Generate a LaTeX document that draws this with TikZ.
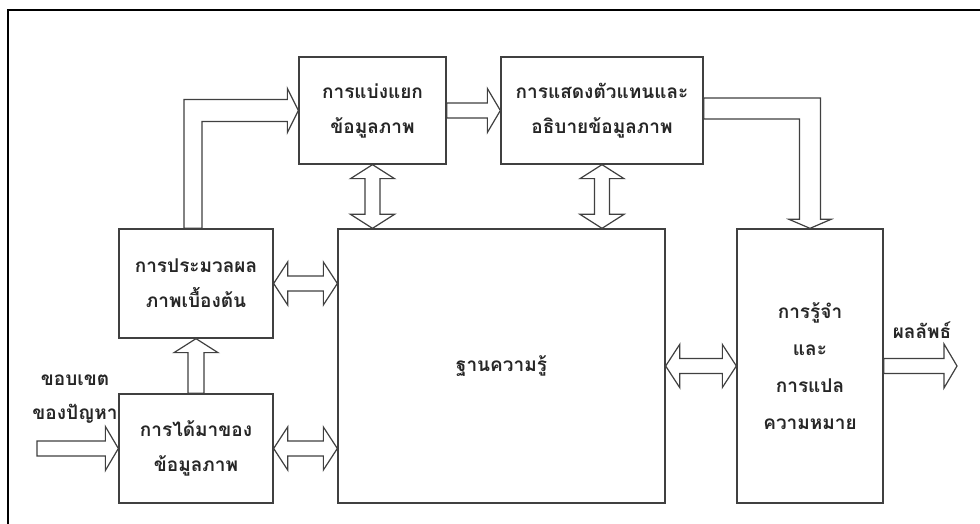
\documentclass[tikz,border=0pt]{standalone}
\usepackage{fontspec}
\newfontfamily\thaifont[Script=Thai]{Loma}
\usetikzlibrary{calc}
\tikzset{
  box/.style={draw=black!75, line width=1.3pt, fill=white, inner sep=0pt, align=center,
              font=\thaifont\bfseries\fontsize{19}{35}\selectfont, text=black!85},
  blk/.style={draw=black!75, line width=1.2pt, fill=white, line join=miter},
  lbl/.style={inner sep=0pt, align=center, font=\thaifont\bfseries\fontsize{19}{34}\selectfont, text=black!85},
}
% right-pointing block arrow: tail #1 (x), tip #2
\newcommand\blkR[2]{\draw[blk] let \p1=(#1),\p2=(#2) in
  (\x1,\y2+7.5pt) -- (\x2-13pt,\y2+7.5pt) -- (\x2-13pt,\y2+22pt) -- (\x2,\y2)
  -- (\x2-13pt,\y2-22pt) -- (\x2-13pt,\y2-7.5pt) -- (\x1,\y2-7.5pt) -- cycle;}
% horizontal double block arrow: left tip #1, right tip #2 (y of #1)
\newcommand\blkLR[2]{\draw[blk] let \p1=(#1),\p2=(#2) in
  (\x1,\y1) -- (\x1+14pt,\y1+21.5pt) -- (\x1+14pt,\y1+7.5pt) -- (\x2-14pt,\y1+7.5pt)
  -- (\x2-14pt,\y1+21.5pt) -- (\x2,\y1) -- (\x2-14pt,\y1-21.5pt) -- (\x2-14pt,\y1-7.5pt)
  -- (\x1+14pt,\y1-7.5pt) -- (\x1+14pt,\y1-21.5pt) -- cycle;}
% vertical double block arrow: top tip #1, bottom tip #2 (x of #1)
\newcommand\blkUD[2]{\draw[blk] let \p1=(#1),\p2=(#2) in
  (\x1,\y1) -- (\x1+22pt,\y1-14pt) -- (\x1+7.5pt,\y1-14pt) -- (\x1+7.5pt,\y2+14pt)
  -- (\x1+22pt,\y2+14pt) -- (\x1,\y2) -- (\x1-22pt,\y2+14pt) -- (\x1-7.5pt,\y2+14pt)
  -- (\x1-7.5pt,\y1-14pt) -- (\x1-22pt,\y1-14pt) -- cycle;}
% upward block arrow: tail #1 (y), tip #2
\newcommand\blkU[2]{\draw[blk] let \p1=(#1),\p2=(#2) in
  (\x2-8pt,\y1) -- (\x2-8pt,\y2-14pt) -- (\x2-22pt,\y2-14pt) -- (\x2,\y2)
  -- (\x2+22pt,\y2-14pt) -- (\x2+8pt,\y2-14pt) -- (\x2+8pt,\y1) -- cycle;}
\begin{document}
\begin{tikzpicture}[x=1pt,y=1pt]
\fill[white] (0,0) rectangle (980,524);
\useasboundingbox (0,0) rectangle (980,524);
% outer frame (top and left edges)
\draw[black, line width=2.6pt] (8,0) -- (8,514) -- (980,514);

% boxes
\node[box, minimum width=147pt, minimum height=107pt] (A) at (372.5,413.5) {การแบ่งแยก\\ข้อมูลภาพ};
\node[box, minimum width=202pt, minimum height=107pt] (B) at (602,413.5) {การแสดงตัวแทนและ\\อธิบายข้อมูลภาพ};
\node[box, minimum width=154pt, minimum height=109pt] (C) at (196,240.5) {การประมวลผล\\ภาพเบื้องต้น};
\node[box, minimum width=154pt, minimum height=109pt] (D) at (196,75.5) {การได้มาของ\\ข้อมูลภาพ};
\node[box, minimum width=327pt, minimum height=274pt] (KB) at (501.5,158) {ฐานความรู้};
\node[box, minimum width=146pt, minimum height=274pt,
      font=\thaifont\bfseries\fontsize{19}{37}\selectfont] (R) at (810,158) {การรู้จำ\\และ\\การแปล\\ความหมาย};

% labels
\node[lbl] (inlbl) at (75,125) {ขอบเขต\\ของปัญหา};
\node[lbl] (outlbl) at (922,194) {ผลลัพธ์};
\coordinate (src) at (37,75.5);
\coordinate (res) at (957,158);

% arrows
\blkR{src}{D.west}
\blkU{D.north}{C.south}
\blkLR{C.east}{KB.west |- C.east}
\blkLR{D.east}{KB.west |- D.east}
\blkUD{A.south}{A.south |- KB.north}
\blkUD{B.south}{B.south |- KB.north}
\blkLR{KB.east}{R.west}
\blkR{R.east}{res}
\blkR{A.east}{B.west}
% L-shaped arrow from C up and right to A
\draw[blk] let \p1=(C.north),\p2=(A.west) in
  (\x1-12pt,\y1) -- (\x1-12pt,\y2+11pt) -- (\x2-11pt,\y2+11pt) -- (\x2-11pt,\y2+22pt)
  -- (\x2,\y2) -- (\x2-11pt,\y2-22pt) -- (\x2-11pt,\y2-11pt) -- (\x1+6pt,\y2-11pt)
  -- (\x1+6pt,\y1) -- cycle;
% L-shaped arrow from B right and down to R
\draw[blk] let \p1=(B.east),\p2=(R.north) in
  (\x1,\y1+12.5pt) -- (\x2+10.5pt,\y1+12.5pt) -- (\x2+10.5pt,\y2+9pt) -- (\x2+21pt,\y2+9pt)
  -- (\x2,\y2) -- (\x2-21pt,\y2+9pt) -- (\x2-10.5pt,\y2+9pt) -- (\x2-10.5pt,\y1-8.5pt)
  -- (\x1,\y1-8.5pt) -- cycle;
\end{tikzpicture}
\end{document}
